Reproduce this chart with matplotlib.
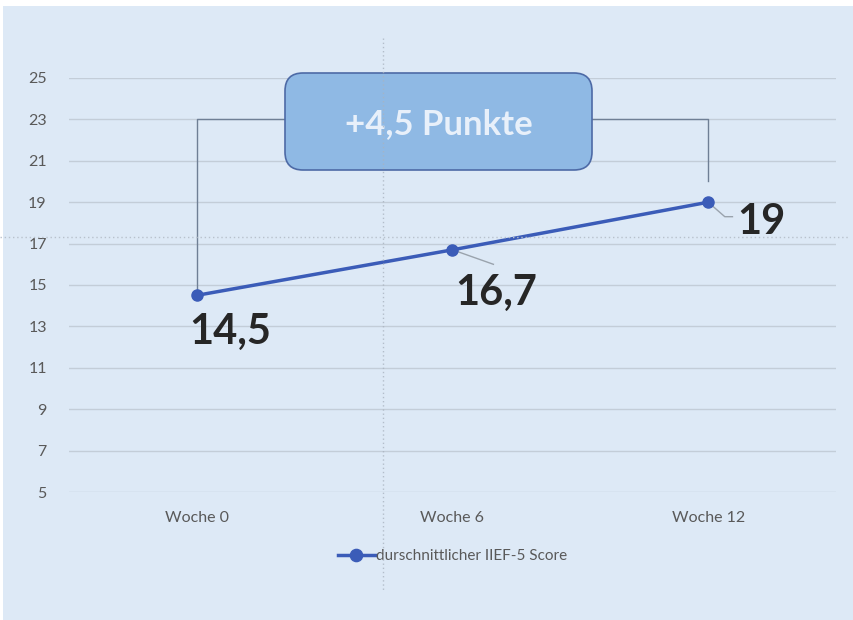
import matplotlib
matplotlib.use("Agg")
import matplotlib.pyplot as plt
from matplotlib.patches import FancyBboxPatch, Rectangle

plt.rcParams['font.family'] = ['Lato', 'DejaVu Sans']

weeks = ["Woche 0", "Woche 6", "Woche 12"]
scores = [14.5, 16.7, 19.0]
score_labels = ["14,5", "16,7", "19"]
yticks = [5, 7, 9, 11, 13, 15, 17, 19, 21, 23, 25]
series_name = "durschnittlicher IIEF-5 Score"
delta_text = "+4,5 Punkte"

bg = "#dde9f6"
line_color = "#3b5cb8"
grid_color = "#c3cdd8"

W, H = 854, 620
fig = plt.figure(figsize=(W / 100, H / 100), dpi=100, facecolor="white")
fig.patches.append(Rectangle((3 / W, 0), 1, 1 - 6 / H, transform=fig.transFigure,
                             facecolor=bg, edgecolor="none", zorder=-10))

ax = fig.add_axes([69 / W, 1 - 492 / H, 767 / W, 414 / H])
ax.set_facecolor("none")
x = list(range(len(weeks)))
ax.set_xlim(-0.5, 2.5)
ax.set_ylim(5, 25)
for s in ax.spines.values():
    s.set_visible(False)
ax.set_yticks(yticks)
ax.set_yticklabels([str(v) for v in yticks])
ax.set_xticks(x)
ax.set_xticklabels(weeks)
ax.tick_params(axis="both", length=0, colors="#595959", labelsize=11.5)
ax.tick_params(axis="y", pad=16)
ax.tick_params(axis="x", pad=14)
ax.yaxis.grid(True, color=grid_color, linewidth=1.0)
ax.set_axisbelow(True)

# overlay in pixel units for the callout box
ov = fig.add_axes([0, 0, 1, 1], zorder=5)
ov.set_xlim(0, W)
ov.set_ylim(H, 0)
ov.axis("off")
ov.patch.set_alpha(0)

# decorative dotted guides
ov.plot([383, 383], [38, 590], color="#a9b3bf", linestyle=(0, (1, 2)), linewidth=1.0,
        alpha=0.8, zorder=7)
ov.plot([0, 850], [237, 237], color="#b8c1cc", linestyle=(0, (1, 2)), linewidth=1.0, zorder=1)

# bracket connecting first and last value
bracket_y = 23.0
ax.plot([x[0], x[0], 0.35], [scores[0], bracket_y, bracket_y], color="#6f7f95",
        linewidth=1.0, zorder=2, clip_on=False)
ax.plot([1.5, x[2], x[2]], [bracket_y, bracket_y, 20.0], color="#6f7f95",
        linewidth=1.0, zorder=2, clip_on=False)

box = FancyBboxPatch((285, 73), 307, 97,
                     boxstyle="round,pad=0,rounding_size=18",
                     facecolor="#8fb9e4", edgecolor="#4d6aa6", linewidth=1.2, zorder=5)
ov.add_patch(box)
ov.text(285 + 153.5, 124, delta_text, ha="center", va="center", fontsize=25,
        fontweight="bold", color="#e8f0fa", zorder=6)

# data series
ax.plot(x, scores, color=line_color, linewidth=2.5, marker="o", markersize=8,
        zorder=4, label=series_name, clip_on=False)

# leader lines for labels
ax.plot([x[1], 1.16], [scores[1], 16.0], color="#9aa3ad", linewidth=1.0, zorder=3)
ax.plot([x[2], 2.065, 2.095], [scores[2], 18.3, 18.3], color="#9aa3ad", linewidth=1.0, zorder=3)

label_kw = dict(fontsize=30, fontweight="bold", color="#262626", zorder=6)
ax.text(x[0] - 0.03, 12.75, score_labels[0], ha="left", va="center", **label_kw)
ax.text(x[1] + 0.01, 14.6, score_labels[1], ha="left", va="center", **label_kw)
ax.text(x[2] + 0.115, 18.05, score_labels[2], ha="left", va="center", **label_kw)

leg = ax.legend(loc="center", bbox_to_anchor=(0.5, -0.155), frameon=False,
                fontsize=11, handlelength=2.4, handletextpad=0.1, labelcolor="#595959",
                markerscale=1.1)

fig.savefig("out.png", dpi=100, facecolor="white")
